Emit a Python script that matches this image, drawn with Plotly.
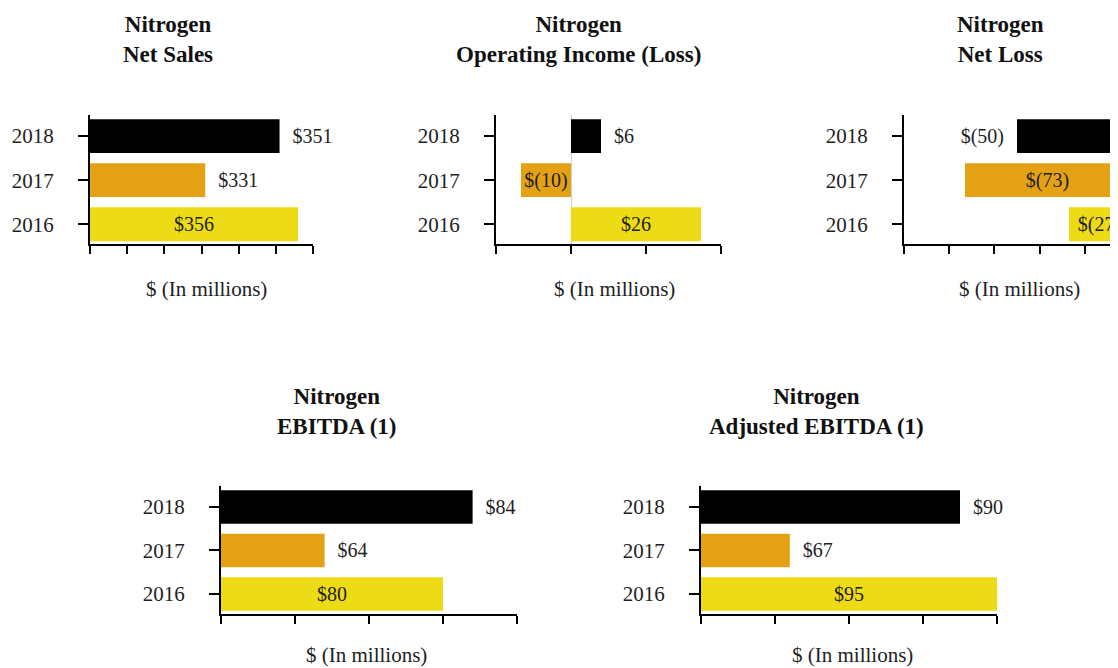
import plotly.graph_objects as go

# fiscal years, bottom to top
years = ["2016", "2017", "2018"]

# values in $ millions, same order as years
net_sales = [356, 331, 351]
operating_income = [26, -10, 6]
net_loss = [-27, -73, -50]
ebitda = [80, 64, 84]
adjusted_ebitda = [95, 67, 90]

panel_titles = [
    "Nitrogen<br>Net Sales",
    "Nitrogen<br>Operating Income (Loss)",
    "Nitrogen<br>Net Loss",
    "Nitrogen<br>EBITDA (1)",
    "Nitrogen<br>Adjusted EBITDA (1)",
]
axis_title = "$ (In millions)"

YEAR_COLORS = {"2016": "#ECDB15", "2017": "#E3A113", "2018": "#000000"}
FONT = "Liberation Serif"
TEXT = "#1e1e1e"
W, H = 1118, 668
PAGE_PAD = 8  # default body margin of the html page
NBSP = "\u00a0"


def px_x(v):
    return (v - PAGE_PAD) / (W - PAGE_PAD)


def px_y(v):
    return 1 - (v - PAGE_PAD) / (H - PAGE_PAD)


def money(v):
    return f"${v}" if v >= 0 else f"$({abs(v)})"


def label(v, pos):
    # outside labels sit a little away from the bar end
    if pos != "outside":
        return money(v)
    pad = NBSP * 2
    return pad + money(v) if v >= 0 else money(v) + pad


# each panel: values, x range, dtick, bar base, text positions, x domain (px), row
panels = [
    (net_sales, [300, 360], 10, 300, ["inside", "outside", "outside"], (90, 313), 0),
    (operating_income, [-15, 30], 15, 0, ["inside", "inside", "outside"], (496, 721), 0),
    (net_loss, [-100, -5.3], 20, 0, ["inside", "inside", "outside"], (904, 1118), 0),
    (ebitda, [50, 90], 10, 50, ["inside", "outside", "outside"], (221, 517), 1),
    (adjusted_ebitda, [55, 95], 10, 55, ["inside", "outside", "outside"], (701, 997), 1),
]

row_y = [(115, 244), (486, 614)]
y_ranges = [[-0.45, 2.48], [-0.46, 2.48]]
title_pos = [(168, 39), (578, 39), (1000, 39), (337, 411), (816, 411)]
unit_pos = [(206, 289), (614, 289), (1019, 289), (366, 655), (852, 655)]

fig = go.Figure()
layout = {}

for i, (vals, xr, dtick, base, tpos, (x0, x1), row) in enumerate(panels):
    n = "" if i == 0 else str(i + 1)
    fig.add_trace(go.Bar(
        y=years, x=[v - base for v in vals], base=base, orientation="h",
        width=0.77,
        marker=dict(color=[YEAR_COLORS[y] for y in years], line=dict(width=0)),
        text=[label(v, p) for v, p in zip(vals, tpos)], textposition=tpos,
        insidetextanchor="middle", constraintext="none",
        textfont=dict(family=FONT, size=20, color=TEXT),
        cliponaxis=False, showlegend=False, hoverinfo="skip",
        xaxis="x" + n, yaxis="y" + n,
    ))
    top, bottom = row_y[row]
    layout["xaxis" + n] = dict(
        domain=[px_x(x0), px_x(x1)], range=xr, anchor="y" + n,
        tick0=xr[0], dtick=dtick, ticks="outside", ticklen=8, tickwidth=1.5,
        tickcolor="black", showticklabels=False, showgrid=False,
        showline=True, linecolor="black", linewidth=2,
        zeroline=(i == 1), zerolinecolor="#d0d0d0", zerolinewidth=1,
        fixedrange=True,
    )
    layout["yaxis" + n] = dict(
        domain=[px_y(bottom), px_y(top)], range=y_ranges[row], anchor="x" + n,
        type="category", categoryorder="array", categoryarray=years,
        ticks="outside", ticklen=10, tickwidth=1.5, tickcolor="black",
        ticklabelstandoff=20,
        tickfont=dict(family=FONT, size=21, color=TEXT),
        showgrid=False, zeroline=False,
        showline=True, linecolor="black", linewidth=2, fixedrange=True,
    )

annotations = []
for text, (x, y) in zip(panel_titles, title_pos):
    annotations.append(dict(
        text=f"<b>{text}</b>", x=px_x(x), y=px_y(y), xref="paper", yref="paper",
        xanchor="center", yanchor="middle", showarrow=False,
        font=dict(family=FONT, size=23, color="#111111"),
    ))
for x, y in unit_pos:
    annotations.append(dict(
        text=axis_title, x=px_x(x), y=px_y(y), xref="paper", yref="paper",
        xanchor="center", yanchor="middle", showarrow=False,
        font=dict(family=FONT, size=21, color=TEXT),
    ))

fig.update_layout(
    width=W - PAGE_PAD, height=H - PAGE_PAD, margin=dict(l=0, r=0, t=0, b=0),
    paper_bgcolor="white", plot_bgcolor="white",
    annotations=annotations, **layout,
)

fig.write_html("out.html")
